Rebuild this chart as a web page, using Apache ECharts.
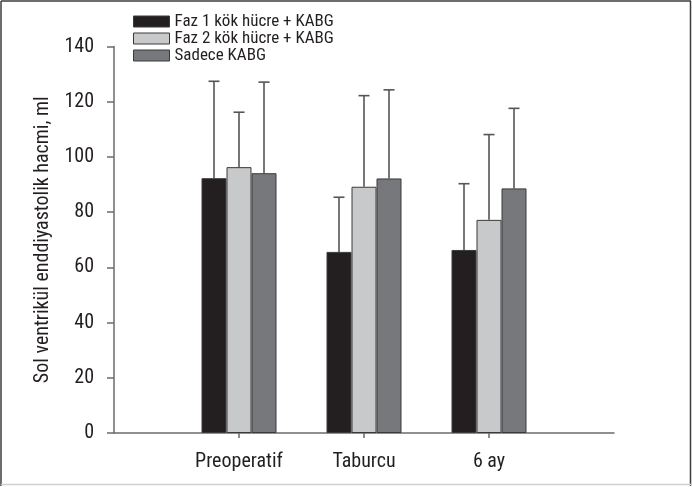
<!DOCTYPE html>
<html>
<head>
<meta charset="utf-8">
<script src="https://cdn.jsdelivr.net/npm/echarts@6/dist/echarts.min.js"></script>
<style>
  html, body { margin: 0; padding: 0; background: #fff; }
  #chart { width: 692px; height: 487px; }
</style>
</head>
<body>
<div id="chart"></div>
<script>
// Time points (outer empty slots leave room on both sides of the axis)
const categories = ['', 'Preoperatif', 'Taburcu', '6 ay', ''];
const seriesNames = ['Faz 1 kök hücre + KABG', 'Faz 2 kök hücre + KABG', 'Sadece KABG'];

// Mean left ventricular end-diastolic volume (ml)
const faz1Mean = [92.3, 65.6, 66.3];
const faz2Mean = [96.3, 89.2, 77.2];
const sadeceMean = [94.1, 92.2, 88.6];

// Upper end of the error bars (mean + SD)
const faz1Upper = [127.4, 85.4, 90.3];
const faz2Upper = [116.2, 122.2, 108.1];
const sadeceUpper = [127.1, 124.3, 117.6];

const yTicks = [0, 20, 40, 60, 80, 100, 120, 140];

const colors = ['#231f20', '#c8c9cb', '#77787b'];
const means = [faz1Mean, faz2Mean, sadeceMean];
const uppers = [faz1Upper, faz2Upper, sadeceUpper];

const FONT = "'Roboto Condensed', 'Liberation Sans Narrow', sans-serif";
const TEXT = '#231f20';

// pad values so they line up with the inner three categories
function pad(arr) { return [null].concat(arr, [null]); }

const barSeries = seriesNames.map((name, i) => ({
  name: name,
  type: 'bar',
  barWidth: '20%',
  barGap: '0%',
  data: pad(means[i]),
  itemStyle: { color: colors[i], borderColor: '#3a3a3a', borderWidth: 1 },
  z: 2
}));

const errorSeries = seriesNames.map((name, i) => ({
  type: 'custom',
  silent: true,
  z: 1,
  data: means[i].map((m, k) => [k + 1, m, uppers[i][k]]),
  renderItem: function (params, api) {
    const band = api.size([1, 0])[0];
    const off = band * 0.2 * (i - 1);
    const base = api.coord([api.value(0), api.value(1)]);
    const top = api.coord([api.value(0), api.value(2)]);
    const x = base[0] + off;
    const cap = 5.5;
    const style = { stroke: '#555', lineWidth: 1.6 };
    return {
      type: 'group',
      children: [
        { type: 'line', shape: { x1: x, y1: base[1], x2: x, y2: top[1] }, style: style },
        { type: 'line', shape: { x1: x - cap, y1: top[1], x2: x + cap, y2: top[1] }, style: style }
      ]
    };
  }
}));

const chart = echarts.init(document.getElementById('chart'), null, { renderer: 'canvas' });
chart.setOption({
  animation: false,
  backgroundColor: '#fff',
  grid: { left: 114, right: 78, top: 46.5, bottom: 54 },
  legend: {
    data: seriesNames,
    orient: 'vertical',
    left: 128,
    top: 8,
    icon: 'rect',
    itemWidth: 36,
    itemHeight: 11,
    itemGap: 0,
    itemTextGap: 4,
    itemStyle: { borderColor: '#3a3a3a', borderWidth: 1 },
    textStyle: { fontFamily: FONT, fontSize: 17, color: TEXT, lineHeight: 17 },
    selectedMode: false
  },
  xAxis: {
    type: 'category',
    data: categories,
    boundaryGap: false,
    axisLine: { lineStyle: { color: '#6b6b6b', width: 1.5 } },
    axisTick: {
      length: 5,
      interval: function (idx) { return idx >= 1 && idx <= 3; },
      lineStyle: { color: '#6b6b6b', width: 1.5 }
    },
    axisLabel: {
      interval: 0,
      margin: 19,
      fontFamily: FONT, fontSize: 20, color: TEXT
    },
    splitLine: { show: false }
  },
  yAxis: {
    type: 'value',
    min: yTicks[0],
    max: yTicks[yTicks.length - 1],
    interval: yTicks[1] - yTicks[0],
    name: 'Sol ventrikül enddiyastolik hacmi, ml',
    nameLocation: 'middle',
    nameGap: 61,
    nameTextStyle: { fontFamily: FONT, fontSize: 20, color: TEXT },
    axisLine: { show: true, lineStyle: { color: '#6b6b6b', width: 1.5 } },
    axisTick: { show: true, length: 7, lineStyle: { color: '#6b6b6b', width: 1.5 } },
    axisLabel: { margin: 20, fontFamily: FONT, fontSize: 20, color: TEXT },
    splitLine: { show: false }
  },
  graphic: [
    { type: 'line', shape: { x1: 1, y1: 1, x2: 691, y2: 1 }, style: { stroke: '#3c3c3c', lineWidth: 1.5 } },
    { type: 'line', shape: { x1: 1, y1: 1, x2: 1, y2: 486 }, style: { stroke: '#3c3c3c', lineWidth: 1.5 } },
    { type: 'line', shape: { x1: 690.5, y1: 1, x2: 690.5, y2: 486 }, style: { stroke: '#3c3c3c', lineWidth: 1.5 } },
    { type: 'line', shape: { x1: 1, y1: 484.5, x2: 691, y2: 484.5 }, style: { stroke: '#d0d0d0', lineWidth: 1.5 } }
  ],
  series: barSeries.concat(errorSeries)
});
</script>
</body>
</html>
